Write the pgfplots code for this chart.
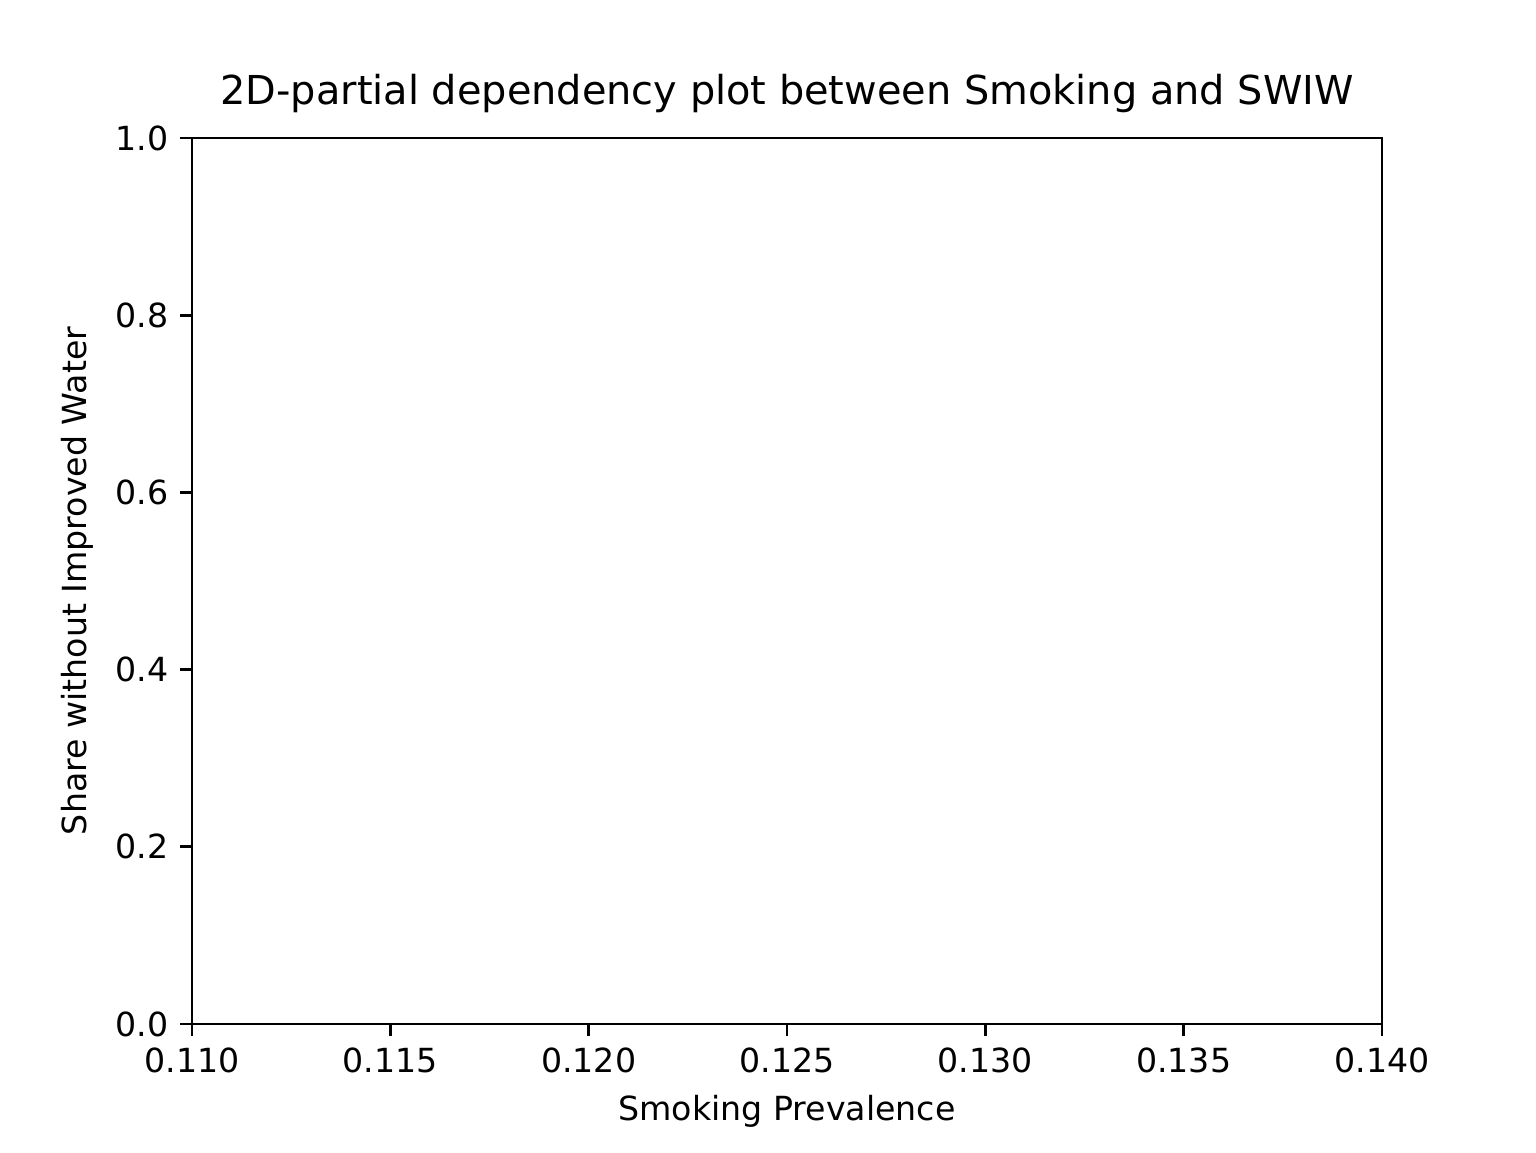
\documentclass[border=0pt]{standalone}
\usepackage{pgfplots}
\pgfplotsset{compat=1.18}
\usepackage{fontspec}
\setmainfont{DejaVu Sans}
\begin{document}
\begin{tikzpicture}
\path[use as bounding box] (-57.6bp,-38.4bp) rectangle (403.2bp,307.2bp);
\begin{axis}[at={(0,0)},anchor=origin,
  scale only axis, width=357bp, height=265.8bp,
  xmin=0.110, xmax=0.140, ymin=0, ymax=1,
  xtick={0.110,0.115,...,0.1401}, ytick={0,0.2,...,1.01},
  /pgf/number format/assume math mode=true,
  xticklabel style={/pgf/number format/.cd,fixed,fixed zerofill,precision=3},
  yticklabel style={/pgf/number format/.cd,fixed,fixed zerofill,precision=1},
  tick align=outside, tick pos=left, major tick length=3.5bp,
  tick label style={font=\fontsize{10}{12}\selectfont},
  label style={font=\fontsize{10}{12}\selectfont},
  title style={font=\fontsize{12}{14}\selectfont, yshift=-2bp},
  title={2D-partial dependency plot between Smoking and SWIW},
  xlabel={Smoking Prevalence}, ylabel={Share without Improved Water},
  axis line style={line width=0.8bp}, every tick/.style={black,line width=0.8bp}]
\addplot[draw=none] coordinates {(0.12,0.5)};
\end{axis}
\end{tikzpicture}
\end{document}
